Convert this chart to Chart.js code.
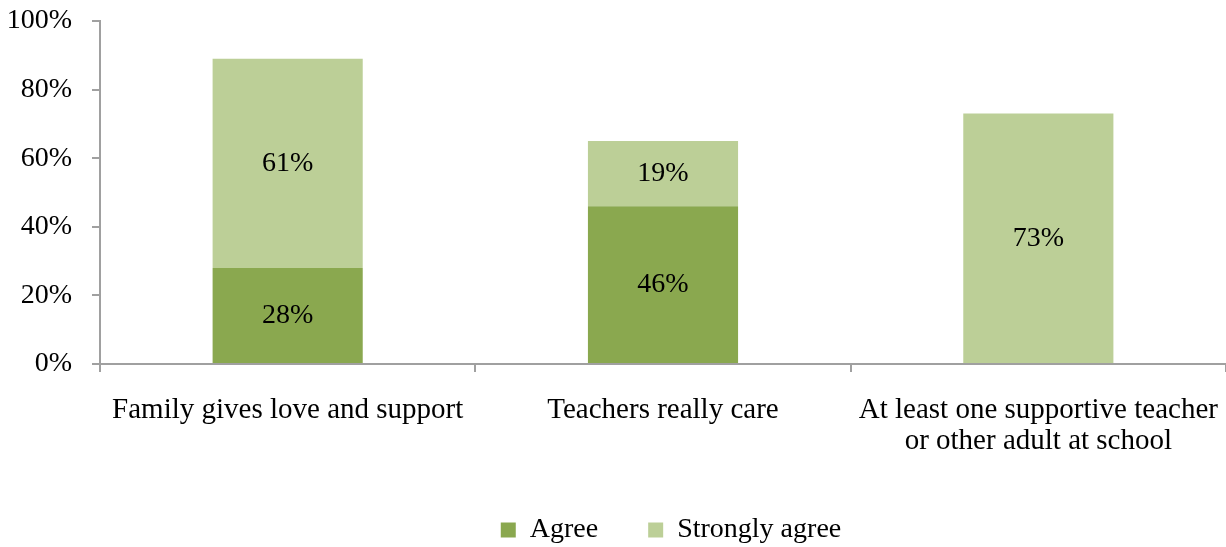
<!DOCTYPE html>
<html lang="en">
<head>
    <meta charset="UTF-8">
    <title>Support</title>
    <script src="https://cdn.jsdelivr.net/npm/chart.js"></script>
    <style>
        body { margin: 0; background: #fff; }
    </style>
</head>
<body>
    <canvas id="supportChart" width="1226" height="547"></canvas>
    <script>
        const categories = [
            'Family gives love and support',
            'Teachers really care',
            ['At least one supportive teacher', 'or other adult at school']
        ];
        const agree = [28, 46, null];
        const stronglyAgree = [61, 19, 73];
        const yTicks = [0, 20, 40, 60, 80, 100];

        const axisColor = '#a0a0a0';
        const family = '"Liberation Serif", "Times New Roman", serif';
        const font = { family: family, size: 28, lineHeight: 1.1 };
        const catFont = { family: family, size: 29, lineHeight: 1.07 };

        // writes each segment's value in the middle of its bar
        const valueLabels = {
            id: 'valueLabels',
            afterDatasetsDraw(chart) {
                const ctx = chart.ctx;
                ctx.save();
                ctx.font = font.size + 'px ' + font.family;
                ctx.fillStyle = '#000';
                ctx.textAlign = 'center';
                ctx.textBaseline = 'middle';
                chart.data.datasets.forEach((ds, i) => {
                    chart.getDatasetMeta(i).data.forEach((bar, j) => {
                        const v = ds.data[j];
                        if (v == null) return;
                        const p = bar.getProps(['x', 'y', 'base'], true);
                        ctx.fillText(v + '%', p.x, (p.y + p.base) / 2);
                    });
                });
                ctx.restore();
            }
        };

        // centre the legend under the plot and nudge it down a little
        const legendShift = {
            id: 'legendShift',
            afterLayout(chart) {
                const lg = chart.legend;
                const off = (chart.chartArea.left + chart.chartArea.right) / 2 - chart.width / 2 + 8;
                lg.left += off;
                lg.right += off;
                lg.top += 7;
                lg.bottom += 7;
            }
        };

        new Chart(document.getElementById('supportChart'), {
            type: 'bar',
            data: {
                labels: categories,
                datasets: [{
                    label: 'Agree',
                    data: agree,
                    backgroundColor: '#8aa84f'
                }, {
                    label: 'Strongly agree',
                    data: stronglyAgree,
                    backgroundColor: '#bccf97'
                }]
            },
            options: {
                responsive: false,
                animation: false,
                datasets: {
                    bar: { categoryPercentage: 0.4, barPercentage: 1 }
                },
                layout: { padding: { top: 21, right: 0, bottom: 0, left: 0 } },
                scales: {
                    x: {
                        stacked: true,
                        grid: { drawOnChartArea: false, color: axisColor, tickLength: 8, lineWidth: 2 },
                        border: { color: axisColor, width: 2 },
                        ticks: { color: '#000', font: catFont, padding: 23, maxRotation: 0 },
                        afterFit(scale) {
                            scale.height = 95;
                            scale.paddingLeft = 0;
                            scale.paddingRight = 0;
                        }
                    },
                    y: {
                        stacked: true,
                        min: 0,
                        max: 100,
                        afterBuildTicks(scale) {
                            scale.ticks = yTicks.map(v => ({ value: v }));
                        },
                        grid: { drawOnChartArea: false, color: axisColor, tickLength: 8, lineWidth: 2 },
                        border: { color: axisColor, width: 2 },
                        ticks: {
                            color: '#000',
                            font: font,
                            padding: 20,
                            callback: v => v + '%'
                        },
                        afterFit(scale) {
                            scale.width = 100;
                            scale.paddingTop = 0;
                            scale.paddingBottom = 0;
                        }
                    }
                },
                plugins: {
                    legend: {
                        position: 'bottom',
                        labels: {
                            color: '#000',
                            font: font,
                            boxWidth: 15,
                            boxHeight: 15,
                            padding: 50
                        }
                    },
                    tooltip: { enabled: false }
                }
            },
            plugins: [valueLabels, legendShift]
        });
    </script>
</body>
</html>
